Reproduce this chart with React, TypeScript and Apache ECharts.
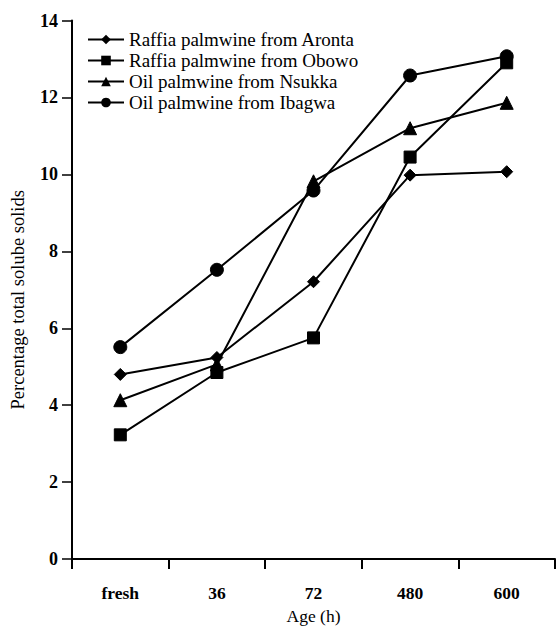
import React, { useEffect, useRef } from "react";
import * as echarts from "echarts";

const categories = ["fresh", "36", "72", "480", "600"];
const aronta = [4.8, 5.24, 7.21, 9.98, 10.07];
const obowo = [3.23, 4.85, 5.75, 10.45, 12.9];
const nsukka = [4.13, 5.06, 9.82, 11.2, 11.86];
const ibagwa = [5.51, 7.52, 9.58, 12.57, 13.07];
const seriesNames = [
  "Raffia palmwine from Aronta",
  "Raffia palmwine from Obowo",
  "Oil palmwine from Nsukka",
  "Oil palmwine from Ibagwa",
];
const symbols = ["diamond", "rect", "triangle", "circle"];
const symbolSizes = [12, 12, 13, 13];

const FONT = "Liberation Serif";

export default function App() {
  const ref = useRef<HTMLDivElement>(null);
  useEffect(() => {
    if (!ref.current) return;
    const chart = echarts.init(ref.current, undefined, { renderer: "svg" });
    const values = [aronta, obowo, nsukka, ibagwa];
    chart.setOption({
      animation: false,
      backgroundColor: "#ffffff",
      textStyle: { fontFamily: FONT, color: "#000" },
      grid: { left: 70, right: 1, top: 20.5, bottom: 62, containLabel: false },
      legend: {
        orient: "vertical",
        left: 82,
        top: 25,
        itemWidth: 36,
        itemHeight: 12,
        itemGap: 2,
        textStyle: { fontFamily: FONT, fontSize: 19, color: "#000", lineHeight: 19 },
        data: seriesNames,
      },
      xAxis: {
        type: "category",
        data: categories,
        boundaryGap: true,
        name: "Age (h)",
        nameLocation: "middle",
        nameGap: 46,
        nameTextStyle: { fontFamily: FONT, fontSize: 17.5, color: "#000" },
        axisLine: { lineStyle: { color: "#000", width: 2 } },
        axisTick: { show: true, length: 10, lineStyle: { color: "#000", width: 2 } },
        axisLabel: { fontFamily: FONT, fontSize: 17.5, fontWeight: "bold", color: "#000", margin: 25 },
        splitLine: { show: false },
      },
      yAxis: {
        type: "value",
        min: 0,
        max: 14,
        interval: 2,
        name: "Percentage total solube solids",
        nameLocation: "middle",
        nameGap: 45,
        nameTextStyle: { fontFamily: FONT, fontSize: 18.5, color: "#000", padding: [0, 0, 0, -20] },
        axisLine: { show: true, lineStyle: { color: "#000", width: 2 } },
        axisTick: { show: true, length: 10, lineStyle: { color: "#000", width: 1.5 } },
        axisLabel: { fontFamily: FONT, fontSize: 18, fontWeight: "bold", color: "#000", margin: 14 },
        splitLine: { show: false },
      },
      series: seriesNames.map((name, i) => ({
        name,
        type: "line",
        data: values[i],
        symbol: symbols[i],
        symbolSize: symbolSizes[i],
        showSymbol: true,
        lineStyle: { color: "#000", width: 2 },
        itemStyle: { color: "#000", borderColor: "#000" },
      })),
    });
    return () => chart.dispose();
  }, []);
  return <div ref={ref} style={{ width: 556, height: 630, position: "absolute", left: 0, top: 0 }} />;
}
